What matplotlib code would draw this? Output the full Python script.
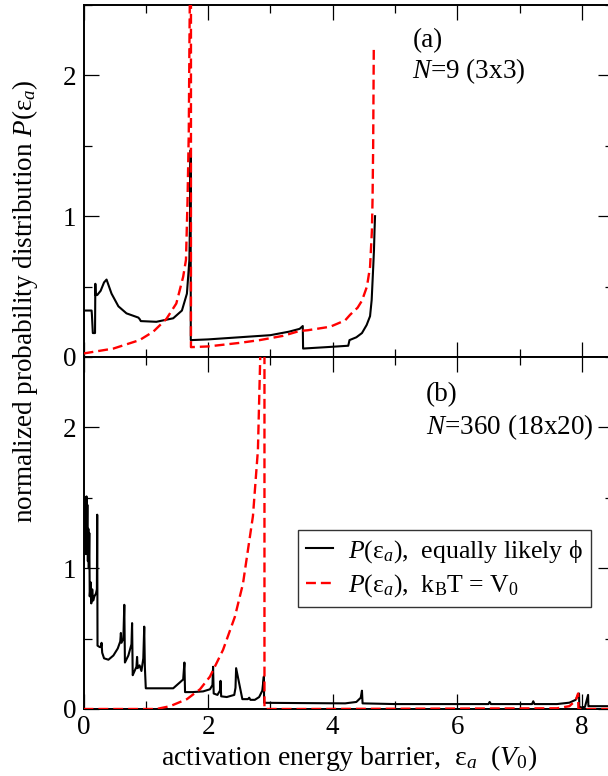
import matplotlib
matplotlib.use("Agg")
import matplotlib.pyplot as plt
from matplotlib.ticker import MultipleLocator
from matplotlib.lines import Line2D

plt.rcParams['font.family'] = ['Liberation Serif', 'DejaVu Serif']
plt.rcParams['mathtext.fontset'] = 'custom'
plt.rcParams['mathtext.rm'] = 'Liberation Serif'
plt.rcParams['mathtext.it'] = 'Liberation Serif:italic'
plt.rcParams['mathtext.bf'] = 'Liberation Serif:bold'

# ---------------- data: panel (a) N=9 ----------------
xa_black = [0.0, 0.005, 0.13, 0.135, 0.15, 0.185, 0.19, 0.195, 0.22, 0.275, 0.33, 0.37,
            0.45, 0.56, 0.69, 0.88, 0.9, 0.92, 1.17, 1.44, 1.58, 1.66, 1.7, 1.71, 1.72,
            1.722, 1.73, 2.0, 2.5, 3.0, 3.3, 3.47, 3.52, 3.525, 3.9, 4.25, 4.27, 4.38,
            4.47, 4.545, 4.6, 4.626, 4.652, 4.663, 4.672, 4.68]
ya_black = [0.12, 0.33, 0.33, 0.30, 0.17, 0.17, 0.52, 0.44, 0.44, 0.47, 0.53, 0.55,
            0.45, 0.36, 0.31, 0.28, 0.27, 0.255, 0.25, 0.275, 0.33, 0.45, 0.69, 1.0, 1.47,
            0.12, 0.12, 0.125, 0.14, 0.155, 0.18, 0.2, 0.22, 0.06, 0.07, 0.08, 0.12, 0.14,
            0.17, 0.227, 0.29, 0.405, 0.65, 0.76, 0.9, 1.0]

xa_red = [0.0, 0.48, 0.9, 1.12, 1.33, 1.49, 1.6, 1.645, 1.67, 1.69, 1.7, 1.71, 1.725,
          1.725, 2.0, 2.5, 2.83, 3.2, 3.47, 3.6, 3.96, 4.2, 4.28, 4.4, 4.47, 4.55, 4.6,
          4.63, 4.64, 4.65, 4.66]
ya_red = [0.025, 0.06, 0.12, 0.18, 0.27, 0.38, 0.57, 0.69, 1.11, 1.6, 2.2, 2.7, 2.7,
          0.07, 0.075, 0.1, 0.12, 0.15, 0.185, 0.19, 0.215, 0.26, 0.30, 0.35, 0.40, 0.5, 0.64,
          0.9, 1.12, 1.5, 2.2]

# ---------------- data: panel (b) N=360 ----------------
xb_black = [0.0, 0.003, 0.006, 0.012, 0.018, 0.025, 0.032, 0.04, 0.048, 0.055, 0.062,
            0.07, 0.078, 0.085, 0.093, 0.1, 0.115, 0.125, 0.14, 0.155, 0.175, 0.2, 0.215,
            0.22, 0.225, 0.26, 0.28, 0.29, 0.3, 0.33, 0.4, 0.48, 0.55, 0.59, 0.6, 0.61,
            0.64, 0.655, 0.665, 0.72, 0.77, 0.78, 0.79, 0.82, 0.85, 0.86, 0.87, 0.9, 0.93,
            0.96, 0.975, 0.985, 1.0, 1.2, 1.44, 1.55, 1.6, 1.62, 1.63, 1.75, 1.92, 2.03,
            2.07, 2.08, 2.09, 2.15, 2.19, 2.2, 2.21, 2.3, 2.42, 2.44, 2.45, 2.55, 2.64,
            2.66, 2.68, 2.75, 2.82, 2.87, 2.895, 2.9, 2.91, 3.5, 4.2, 4.38, 4.45, 4.47,
            4.48, 5.0, 6.5, 6.52, 6.54, 7.0, 7.2, 7.22, 7.24, 7.6, 7.8, 7.9, 7.955, 7.96,
            7.97, 8.05, 8.1, 8.105, 8.12, 8.3, 8.5]
yb_black = [0.0, 0.42, 1.5, 1.2, 1.5, 1.15, 1.5, 1.1, 1.51, 1.2, 1.45,
            1.05, 1.28, 1.0, 1.25, 0.8, 0.9, 0.75, 0.85, 0.77, 0.8, 0.82, 0.85,
            1.38, 0.45, 0.44, 0.44, 0.47, 0.40, 0.36, 0.35, 0.38, 0.43, 0.48, 0.54, 0.47,
            0.5, 0.74, 0.33, 0.38, 0.46, 0.61, 0.24, 0.27, 0.30, 0.37, 0.29, 0.31, 0.27,
            0.36, 0.585, 0.3, 0.147, 0.147, 0.147, 0.19, 0.21, 0.33, 0.12, 0.12, 0.125, 0.14,
            0.17, 0.30, 0.11, 0.1, 0.13, 0.2, 0.09, 0.085, 0.1, 0.15, 0.29, 0.07, 0.07,
            0.08, 0.065, 0.065, 0.085, 0.13, 0.23, 0.044, 0.044, 0.042, 0.04, 0.05, 0.08,
            0.13, 0.04, 0.035, 0.035, 0.05, 0.035, 0.035, 0.035, 0.055, 0.035, 0.035, 0.045,
            0.065, 0.11, 0.01, 0.01, 0.015, 0.1, 0.02, 0.02, 0.02, 0.02]

xb_red = [0.0, 1.17, 1.39, 1.66, 1.87, 2.03, 2.24, 2.43, 2.56, 2.64, 2.72, 2.80, 2.84,
          2.86, 2.905, 2.905, 3.5, 7.6, 7.8, 7.9, 7.94, 7.945, 8.5]
yb_red = [0.0, 0.0, 0.02, 0.07, 0.14, 0.23, 0.42, 0.655, 0.89, 1.13, 1.37, 1.84, 2.55,
          2.7, 2.7, 0.0, 0.0, 0.005, 0.02, 0.06, 0.11, 0.0, 0.0]

x_ticks = [0, 2, 4, 6, 8]
y_ticks = [0, 1, 2]
legend_labels = [r'$P$(ε$_{a}$),  equally likely ϕ', r'$P$(ε$_{a}$),  k$_{\mathrm{B}}$T = V$_{0}$']

FS = 19.5
W, H = 608, 776
fig = plt.figure(figsize=(W / 100, H / 100), dpi=100)
left = 83.5 / W
width = 529.5 / W
ax1 = fig.add_axes([left, 1 - 357 / H, width, 352 / H])
ax2 = fig.add_axes([left, 1 - 709 / H, width, 352 / H])

red_kw = dict(color='#ff0000', lw=1.7, dashes=(4.2, 2.1), zorder=3)
blk_kw = dict(color='black', lw=1.5, zorder=2)

ax1.plot(xa_black, ya_black, **blk_kw)
ax1.plot(xa_red, ya_red, **red_kw)
ax2.plot(xb_black, yb_black, **blk_kw)
ax2.plot(xb_red, yb_red, **red_kw)

for ax in (ax1, ax2):
    ax.set_xlim(0, 8.5)
    ax.set_ylim(0, 2.5)
    ax.set_xticks(x_ticks)
    ax.set_yticks(y_ticks)
    ax.xaxis.set_minor_locator(MultipleLocator(1))
    ax.yaxis.set_minor_locator(MultipleLocator(0.5))
    ax.tick_params(which='both', direction='in', top=True, right=True, width=0.9,
                   labelsize=FS)
    ax.tick_params(which='major', length=10.5)
    ax.tick_params(which='minor', length=5.5)
    ax.tick_params(axis='x', pad=4)
    ax.tick_params(axis='y', pad=5)
    for s in ax.spines.values():
        s.set_linewidth(1.4)

ax1.tick_params(labelbottom=False)

ax1.text(0.621, 0.900, '(a)', transform=ax1.transAxes, fontsize=FS, va='center')
ax1.text(0.620, 0.813, r'$N$=9 (3x3)', transform=ax1.transAxes, fontsize=FS, va='center')
ax2.text(0.647, 0.892, '(b)', transform=ax2.transAxes, fontsize=FS, va='center')
ax2.text(0.647, 0.801, r'$N$=360 (18x20)', transform=ax2.transAxes, fontsize=FS, va='center')

handles = [Line2D([], [], **blk_kw), Line2D([], [], **red_kw)]
leg = ax2.legend(handles, legend_labels, loc='upper left', bbox_to_anchor=(0.405, 0.508),
                 fontsize=18.5, frameon=True, fancybox=False, edgecolor='#333333',
                 framealpha=1, borderaxespad=0, handlelength=1.05, handletextpad=0.6,
                 borderpad=0.3, labelspacing=0.3)
leg.get_frame().set_linewidth(1.0)

fig.text(25 / W, 1 - 301 / H, r'normalized probability distribution $P$(ε$_{a}$)',
         rotation=90, ha='center', va='center', fontsize=FS)
fig.text(349 / W, 1 - 758 / H, r'activation energy barrier,  ε$_{a}$  ($V_{0}$)',
         ha='center', va='center', fontsize=20)

fig.savefig('out.png', dpi=100)
